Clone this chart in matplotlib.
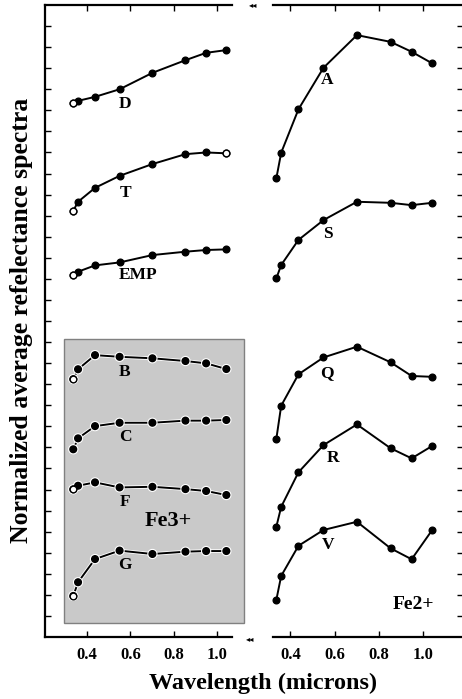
import numpy as np
import matplotlib.pyplot as plt
from matplotlib.patches import Rectangle
import matplotlib.patheffects as pe

plt.rcParams["font.family"] = "serif"
plt.rcParams["font.serif"] = ["Liberation Serif", "DejaVu Serif"]
plt.rcParams["font.weight"] = "bold"

# ECAS filter wavelengths (microns)
wl = [0.337, 0.359, 0.437, 0.550, 0.701, 0.853, 0.948, 1.041]

# left panel (offset spectra, arbitrary units)
D = [25.33, 25.45, 25.64, 26.00, 26.78, 27.38, 27.73, 27.86]
T = [20.23, 20.66, 21.32, 21.89, 22.45, 22.92, 23.00, 22.96]
EMP = [17.18, 17.34, 17.64, 17.78, 18.13, 18.29, 18.37, 18.40]
B = [12.24, 12.71, 13.38, 13.30, 13.23, 13.10, 12.99, 12.72]
C = [8.91, 9.43, 10.01, 10.17, 10.17, 10.27, 10.27, 10.30]
F = [7.01, 7.18, 7.34, 7.10, 7.13, 7.02, 6.93, 6.74]
G = [1.95, 2.60, 3.70, 4.10, 3.94, 4.05, 4.08, 4.08]

# right panel
A = [21.77, 22.99, 25.05, 27.02, 28.57, 28.25, 27.78, 27.23]
S = [17.02, 17.66, 18.85, 19.79, 20.66, 20.61, 20.50, 20.61]
Q = [9.40, 10.98, 12.47, 13.27, 13.78, 13.04, 12.39, 12.35]
R = [5.23, 6.18, 7.82, 9.11, 10.09, 8.96, 8.48, 9.07]
V = [1.76, 2.90, 4.33, 5.08, 5.47, 4.21, 3.69, 5.08]

left_series = [("D", D, [0], (0.575, 25.3)),
               ("T", T, [0, 7], (0.575, 21.07)),
               ("EMP", EMP, [0], (0.635, 17.18)),
               ("B", B, [0], (0.575, 12.58)),
               ("C", C, [], (0.575, 9.49)),
               ("F", F, [0], (0.575, 6.41)),
               ("G", G, [0], (0.575, 3.42))]
right_series = [("A", A, (0.566, 26.44)),
                ("S", S, (0.570, 19.13)),
                ("Q", Q, (0.566, 12.53)),
                ("R", R, (0.593, 8.50)),
                ("V", V, (0.570, 4.37))]

xticks = [0.4, 0.6, 0.8, 1.0]
xticklabels = ["0.4", "0.6", "0.8", "1.0"]


def style_axis(ax, side):
    ax.set_ylim(0, 30)
    ax.set_yticks(np.arange(1, 30))
    ax.set_yticklabels([])
    ax.set_xticks(xticks)
    ax.set_xticklabels(xticklabels, fontsize=12, fontweight="bold")
    ax.tick_params(axis="x", direction="in", top=True, bottom=True,
                   length=4, width=1, pad=7)
    for s in ax.spines.values():
        s.set_linewidth(1.6)
    if side == "left":
        ax.spines["right"].set_visible(False)
        ax.tick_params(axis="y", direction="in", left=True, right=False,
                       length=4, width=1)
    else:
        ax.spines["left"].set_visible(False)
        ax.tick_params(axis="y", direction="in", left=False, right=True,
                       labelright=False, labelleft=False, length=4, width=1)


fig = plt.figure(figsize=(4.62, 6.99), dpi=100)
ax1 = fig.add_axes([45 / 462, 62 / 699, 187 / 462, 632 / 699])
ax2 = fig.add_axes([273 / 462, 62 / 699, 190 / 462, 632 / 699])
ax1.set_xlim(0.207, 1.067)
ax2.set_xlim(0.322, 1.18)
style_axis(ax1, "left")
style_axis(ax2, "right")

# gray Fe3+ box
ax1.add_patch(Rectangle((0.294, 0.66), 0.828, 13.48, facecolor="#c9c9c9",
                        edgecolor="#808080", lw=1, clip_on=False, zorder=0))

for i, (name, y, opens, (tx, ty)) in enumerate(left_series):
    halo = [pe.Stroke(linewidth=2.6, foreground="white"), pe.Normal()] if i >= 3 else None
    ax1.plot(wl, y, "-o", color="black", lw=1.4, ms=4.8, clip_on=False,
             path_effects=halo)
    for j in opens:
        ax1.plot(wl[j], y[j], "o", mfc="white", mec="black", mew=1.0, ms=4.8,
                 clip_on=False)
    ax1.text(tx, ty, name, ha="center", va="center", fontsize=12.5,
             fontweight="bold")
ax1.text(0.773, 5.51, "Fe3+", ha="center", va="center", fontsize=16,
         fontweight="bold")

for name, y, (tx, ty) in right_series:
    ax2.plot(wl, y, "-o", color="black", lw=1.4, ms=4.8, clip_on=False)
    ax2.text(tx, ty, name, ha="center", va="center", fontsize=12.5,
             fontweight="bold")
ax2.text(0.954, 1.52, "Fe2+", ha="center", va="center", fontsize=14,
         fontweight="bold")

# axis break marks
fig.text(253 / 462, 1 - 5 / 699, "\u25c2\u25c2", family="DejaVu Sans",
         fontsize=6, ha="center", va="center")
fig.text(250 / 462, 1 - 639 / 699, "\u25c2\u25c2", family="DejaVu Sans",
         fontsize=6, ha="center", va="center")

fig.text(22 / 462, 1 - 320 / 699, "Normalized average refelectance spectra",
         rotation=90, ha="center", va="center", fontsize=18.5, fontweight="bold")
fig.text(263 / 462, 1 - 683 / 699, "Wavelength (microns)", ha="center",
         va="center", fontsize=17.5, fontweight="bold")

plt.savefig("out.png", dpi=100)
